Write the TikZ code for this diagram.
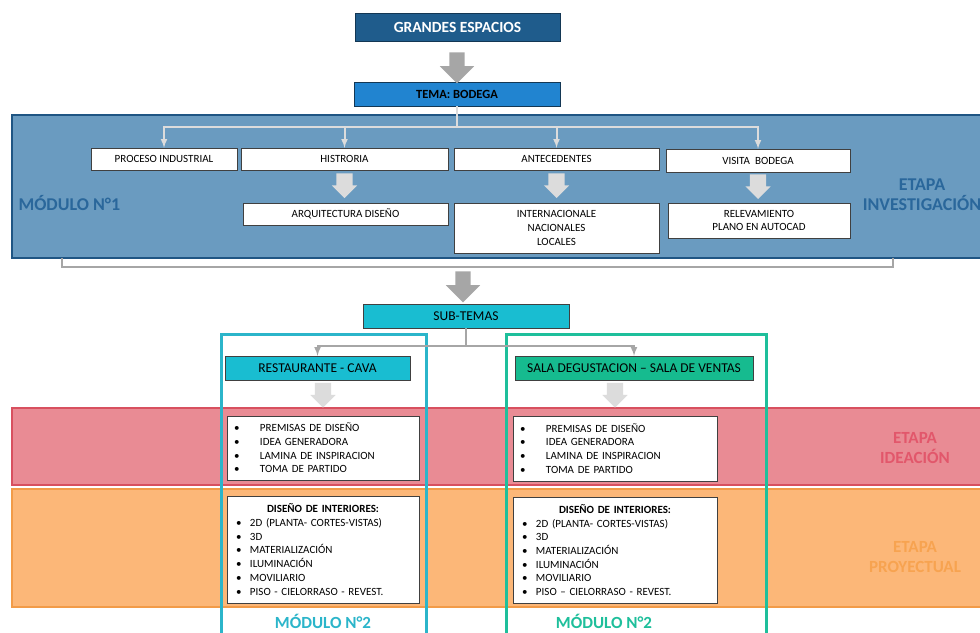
\documentclass[tikz,border=0pt]{standalone}
\usepackage{fontspec}
\setmainfont{Carlito}
\usetikzlibrary{shapes.arrows,positioning}

\definecolor{azulOsc}{HTML}{1F5C8C}
\definecolor{azulTema}{HTML}{2184D0}
\definecolor{azulMod}{HTML}{6A9BC0}
\definecolor{bordeMod}{HTML}{1F5583}
\definecolor{txtMod}{HTML}{2A679B}
\definecolor{cian}{HTML}{19BDD1}
\definecolor{verde}{HTML}{16BB8F}
\definecolor{marcoCian}{HTML}{2BB5CA}
\definecolor{marcoVerde}{HTML}{1EBF9B}
\definecolor{rosa}{HTML}{E98B94}
\definecolor{bordeRosa}{HTML}{D8505F}
\definecolor{txtRosa}{HTML}{E2576B}
\definecolor{naranja}{HTML}{FCB778}
\definecolor{bordeNar}{HTML}{F29B48}
\definecolor{txtNar}{HTML}{F7A350}
\definecolor{grisFl}{HTML}{A6A6A6}
\definecolor{grisCl}{HTML}{DCDCDC}

\newcommand{\itmA}[1]{\hspace*{7pt}\makebox[26pt][l]{\textbullet}#1}
\newcommand{\itmB}[1]{\hspace*{9pt}\makebox[14pt][l]{\textbullet}#1}

\begin{document}
\begin{tikzpicture}[x=1pt, y=-1pt,
                    >=latex,
                    box/.style={draw=black!75, fill=white, inner sep=0pt, align=center,
                                font=\fontsize{11}{13.7}\selectfont},
                    sized/.style 2 args={minimum width=#1, minimum height=#2},
                    lista/.style={box, align=left, text width=#1, minimum width=#1},
                    sub/.style={box, font=\fontsize{13.5}{16}\selectfont},
                    big/.style={single arrow, shape border rotate=270, fill=grisFl, inner sep=7.5pt,
                                minimum height=31, minimum width=34, single arrow head extend=9.5,
                                single arrow head indent=0pt},
                    small/.style={single arrow, shape border rotate=270, fill=grisCl,
                                  inner sep=8pt, minimum height=22, minimum width=25,
                                  single arrow head extend=4.5},
                    etiq/.style={font=\bfseries\fontsize{17}{20}\selectfont, align=center},
                    ra/.style={->, line width=2pt, draw=grisCl},
                    rb/.style={->, line width=2pt, draw=grisFl}]

\useasboundingbox (0,0) rectangle (980,632);
\fill[white] (0,0) rectangle (980,632);

% bandas de fondo
\draw[fill=azulMod, draw=bordeMod, line width=2.5pt] (12,115) rectangle (995,258);
\draw[fill=rosa, draw=bordeRosa, line width=2pt] (12,408) rectangle (995,485);
\draw[fill=naranja, draw=bordeNar, line width=2pt] (12,489) rectangle (995,607);
\draw[draw=marcoCian, line width=3pt] (221,645) -- (221,334) -- (426,334) -- (426,645);
\draw[draw=marcoVerde, line width=3pt] (506,645) -- (506,334) -- (766,334) -- (766,645);

% cabecera
\node [box, sized={205}{28}, fill=azulOsc, draw=azulOsc!60!black, text=white,
       font=\bfseries\fontsize{15.5}{18}\selectfont] (grandes) at (457.5,27) {GRANDES ESPACIOS};
\node [box, sized={206}{24}, fill=azulTema, draw=azulOsc!60!black,
       font=\bfseries\fontsize{12.5}{15}\selectfont] (tema) at (457,94) {TEMA: BODEGA};
\node [big] (flechaA) at (457,64) {};

% modulo 1
\node [box, sized={146}{22}] (proceso) at (164,159) {PROCESO INDUSTRIAL};
\node [box, sized={207}{22}] (historia) at (344.5,159) {HISTRORIA};
\node [box, sized={205}{22}] (antec) at (556.5,159) {ANTECEDENTES};
\node [box, sized={184}{23}] (visita) at (758,160.5) {VISITA\ \ BODEGA};
\node [box, sized={205}{22}] (arqui) at (345.5,214) {ARQUITECTURA DISEÑO};
\node [box, sized={205}{50}] (inter) at (556.5,228) {INTERNACIONALE\\NACIONALES\\LOCALES};
\node [box, sized={182}{35}] (relev) at (759,220.5) {RELEVAMIENTO\\PLANO EN AUTOCAD};

\node [small, below=3pt of historia] (flechaH) {};
\node [small, below=3pt of antec] (flechaN) {};
\node [small, below=2pt of visita] (flechaV) {};

\coordinate (ramaA) at ([yshift=-21pt]tema.south);
\draw [ra, -] (tema.south) -- (ramaA);
\draw [ra] (ramaA) -| (proceso);
\draw [ra] (ramaA) -| (historia);
\draw [ra] (ramaA) -| (antec);
\draw [ra] (ramaA) -| (visita);

\node [etiq, text=txtMod, anchor=west, font=\bfseries\fontsize{18}{21}\selectfont] (mod1) at (15,203) {MÓDULO N°1};
\node [etiq, text=txtMod, font=\bfseries\fontsize{18}{20}\selectfont] (etapaI) at (922,195) {ETAPA\\INVESTIGACIÓN};

% llave inferior
\draw [draw=grisFl, line width=2pt] (62,258) |- (893,267) -- (893,258);
\node [big] (flechaB) at (463,283) {};

% sub-temas
\node [sub, sized={206}{24}, fill=cian] (subtemas) at (466,316) {SUB-TEMAS};
\node [sub, sized={185}{24}, fill=cian] (resta) at (317.5,368) {RESTAURANTE - CAVA};
\node [sub, sized={238}{24}, fill=verde] (sala) at (634,368) {SALA DEGUSTACION -- SALA DE VENTAS};

\coordinate (ramaB) at ([yshift=-18pt]subtemas.south);
\draw [rb, -] (subtemas.south) -- (ramaB);
\draw [rb] (ramaB) -| (resta);
\draw [rb] (ramaB) -| (sala);

% ideacion
\node [lista=192, minimum height=64] (ideaA) at (323,448)
  {\itmA{PREMISAS DE DISEÑO}\\\itmA{IDEA GENERADORA}\\\itmA{LAMINA DE INSPIRACION}\\\itmA{TOMA DE PARTIDO}};
\node [lista=204, minimum height=65] (ideaB) at (615,448.5)
  {\itmA{PREMISAS DE DISEÑO}\\\itmA{IDEA GENERADORA}\\\itmA{LAMINA DE INSPIRACION}\\\itmA{TOMA DE PARTIDO}};
\node [small, above=8pt of ideaA] (flechaR) {};
\node [small, above=8pt of ideaB] (flechaS) {};

% proyectual
\node [lista=192, minimum height=107] (proyA) at (323,549.5)
  {\centerline{\textbf{DISEÑO DE INTERIORES:}}
   \itmB{2D (PLANTA- CORTES-VISTAS)}\\\itmB{3D}\\\itmB{MATERIALIZACIÓN}\\\itmB{ILUMINACIÓN}\\
   \itmB{MOVILIARIO}\\\itmB{PISO - CIELORRASO - REVEST.}};
\node [lista=204, minimum height=106] (proyB) at (615,550)
  {\centerline{\textbf{DISEÑO DE INTERIORES:}}
   \itmB{2D (PLANTA- CORTES-VISTAS)}\\\itmB{3D}\\\itmB{MATERIALIZACIÓN}\\\itmB{ILUMINACIÓN}\\
   \itmB{MOVILIARIO}\\\itmB{PISO -- CIELORRASO - REVEST.}};

\node [etiq, text=txtRosa] (etapaD) at (915,448) {ETAPA\\IDEACIÓN};
\node [etiq, text=txtNar] (etapaP) at (915,557) {ETAPA\\PROYECTUAL};
\node [etiq, text=marcoCian] (mod2A) at (323,621) {MÓDULO N°2};
\node [etiq, text=marcoVerde] (mod2B) at (604,621) {MÓDULO N°2};

\end{tikzpicture}
\end{document}
